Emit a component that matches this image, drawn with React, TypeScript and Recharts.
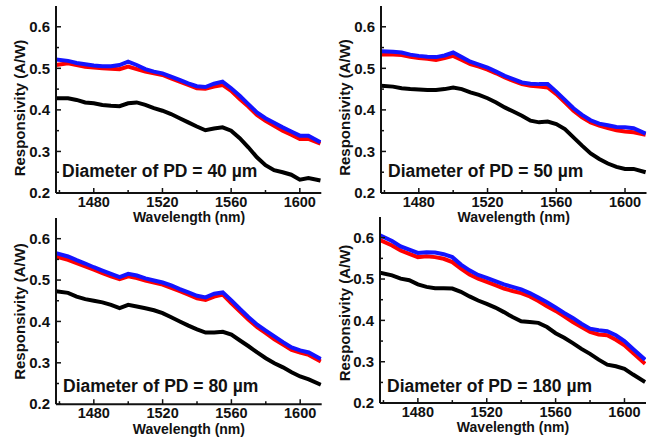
import React from 'react';
import { LineChart, Line, XAxis, YAxis } from 'recharts';

// wavelength samples (nm), shared by all four panels
const wavelengths = [
  1458, 1465, 1470, 1475, 1480, 1485, 1490, 1495, 1500, 1505, 1510, 1515, 1520, 1525, 1530, 1535,
  1540, 1545, 1550, 1555, 1560, 1565, 1570, 1575, 1580, 1585, 1590, 1595, 1600, 1605, 1612,
];

// responsivity (A/W)
const pd40Black = [0.428, 0.428, 0.424, 0.418, 0.416, 0.412, 0.41, 0.409, 0.416, 0.418, 0.412, 0.404, 0.398, 0.39, 0.38, 0.37, 0.36, 0.351, 0.355, 0.358, 0.35, 0.332, 0.31, 0.286, 0.267, 0.255, 0.25, 0.244, 0.232, 0.236, 0.23];
const pd40Red = [0.508, 0.512, 0.508, 0.504, 0.502, 0.5, 0.499, 0.498, 0.504, 0.498, 0.492, 0.488, 0.484, 0.476, 0.468, 0.46, 0.452, 0.451, 0.456, 0.46, 0.446, 0.426, 0.408, 0.388, 0.374, 0.362, 0.35, 0.34, 0.33, 0.33, 0.319];
const pd40Blue = [0.521, 0.518, 0.513, 0.51, 0.507, 0.505, 0.505, 0.508, 0.516, 0.508, 0.498, 0.492, 0.488, 0.48, 0.472, 0.464, 0.457, 0.455, 0.463, 0.468, 0.452, 0.434, 0.414, 0.394, 0.38, 0.369, 0.358, 0.348, 0.338, 0.338, 0.322];

const pd50Black = [0.458, 0.456, 0.452, 0.45, 0.449, 0.448, 0.448, 0.45, 0.454, 0.45, 0.442, 0.436, 0.428, 0.418, 0.406, 0.396, 0.386, 0.374, 0.37, 0.372, 0.366, 0.354, 0.334, 0.314, 0.295, 0.282, 0.271, 0.263, 0.258, 0.258, 0.25];
const pd50Red = [0.533, 0.533, 0.532, 0.528, 0.525, 0.523, 0.52, 0.525, 0.53, 0.52, 0.51, 0.504, 0.497, 0.488, 0.478, 0.47, 0.462, 0.458, 0.456, 0.454, 0.438, 0.418, 0.398, 0.382, 0.37, 0.362, 0.356, 0.351, 0.348, 0.346, 0.34];
const pd50Blue = [0.541, 0.54, 0.538, 0.533, 0.53, 0.528, 0.527, 0.531, 0.538, 0.527, 0.516, 0.509, 0.502, 0.492, 0.482, 0.474, 0.466, 0.463, 0.462, 0.462, 0.444, 0.424, 0.404, 0.388, 0.375, 0.367, 0.363, 0.359, 0.358, 0.356, 0.343];

const pd80Black = [0.473, 0.469, 0.46, 0.454, 0.45, 0.446, 0.44, 0.432, 0.44, 0.436, 0.432, 0.427, 0.42, 0.41, 0.4, 0.39, 0.381, 0.373, 0.373, 0.375, 0.368, 0.354, 0.34, 0.325, 0.311, 0.299, 0.289, 0.277, 0.267, 0.26, 0.247];
const pd80Red = [0.557, 0.549, 0.541, 0.533, 0.525, 0.517, 0.509, 0.502, 0.509, 0.505, 0.499, 0.494, 0.489, 0.481, 0.473, 0.465, 0.456, 0.452, 0.46, 0.465, 0.444, 0.424, 0.404, 0.386, 0.372, 0.357, 0.344, 0.331, 0.325, 0.319, 0.303];
const pd80Blue = [0.565, 0.557, 0.548, 0.54, 0.531, 0.523, 0.515, 0.507, 0.515, 0.511, 0.504, 0.499, 0.494, 0.487, 0.478, 0.47, 0.462, 0.458, 0.467, 0.47, 0.451, 0.43, 0.41, 0.392, 0.378, 0.364, 0.35, 0.337, 0.33, 0.325, 0.309];

const pd180Black = [0.515, 0.509, 0.501, 0.497, 0.487, 0.481, 0.478, 0.478, 0.477, 0.469, 0.458, 0.448, 0.44, 0.431, 0.42, 0.408, 0.398, 0.396, 0.394, 0.384, 0.369, 0.358, 0.345, 0.331, 0.319, 0.305, 0.293, 0.289, 0.283, 0.269, 0.251];
const pd180Red = [0.594, 0.581, 0.569, 0.561, 0.553, 0.555, 0.553, 0.549, 0.541, 0.525, 0.511, 0.501, 0.493, 0.485, 0.477, 0.471, 0.466, 0.458, 0.447, 0.434, 0.423, 0.41, 0.396, 0.384, 0.372, 0.366, 0.364, 0.353, 0.34, 0.321, 0.295];
const pd180Blue = [0.606, 0.592, 0.579, 0.571, 0.563, 0.565, 0.564, 0.56, 0.553, 0.535, 0.521, 0.51, 0.503, 0.495, 0.487, 0.481, 0.475, 0.466, 0.455, 0.444, 0.431, 0.418, 0.406, 0.392, 0.38, 0.376, 0.374, 0.364, 0.35, 0.331, 0.305];

const xMajorTicks = [1480, 1520, 1560, 1600];
const xMinorTicks = [1460, 1500, 1540, 1580];
const yMajorTicks = [0.2, 0.3, 0.4, 0.5, 0.6];
const yMinorTicks = [0.25, 0.35, 0.45, 0.55];
const panelLabels = ['Diameter of PD = 40 µm', 'Diameter of PD = 50 µm', 'Diameter of PD = 80 µm', 'Diameter of PD = 180 µm'];

const xTicks = [...xMajorTicks, ...xMinorTicks].sort((a, b) => a - b);
const yTicks = [...yMajorTicks, ...yMinorTicks].sort((a, b) => a - b);

const FONT = '"Liberation Sans", Arial, sans-serif';
const INK = '#111';

// plot-area placement of each panel on the page
const panels = [
  { label: panelLabels[0], black: pd40Black, red: pd40Red, blue: pd40Blue, x0: 56.4, y0: 5.5, w: 265.3, h: 187, titleX: 25, titleY: 108, noteX: 62, noteY: 177 },
  { label: panelLabels[1], black: pd50Black, red: pd50Red, blue: pd50Blue, x0: 381, y0: 5.5, w: 265.5, h: 187, titleX: 349.5, titleY: 107.5, noteX: 388, noteY: 177 },
  { label: panelLabels[2], black: pd80Black, red: pd80Red, blue: pd80Blue, x0: 56, y0: 218.3, w: 265.7, h: 186.2, titleX: 25, titleY: 311.5, noteX: 63, noteY: 392 },
  { label: panelLabels[3], black: pd180Black, red: pd180Red, blue: pd180Blue, x0: 380, y0: 216.6, w: 266, h: 186.1, titleX: 349.5, titleY: 313, noteX: 387, noteY: 392 },
];

const XTick = ({ x, y, payload }: any) => {
  const major = xMajorTicks.includes(payload.value);
  return (
    <g>
      <line x1={x} x2={x} y1={y} y2={y - (major ? 5 : 3)} stroke={INK} strokeWidth={1.5} />
      {major && (
        <text x={x} y={y + 14} textAnchor="middle" fontSize={14.5} fontWeight="bold" fontFamily={FONT} fill={INK}>
          {payload.value}
        </text>
      )}
    </g>
  );
};

const YTick = ({ x, y, payload }: any) => {
  const major = yMajorTicks.some(t => Math.abs(t - payload.value) < 1e-6);
  return (
    <g>
      <line x1={x} x2={x + (major ? 5 : 3)} y1={y} y2={y} stroke={INK} strokeWidth={1.5} />
      {major && (
        <text x={x - 6} y={y + 5.3} textAnchor="end" fontSize={15} fontWeight="bold" fontFamily={FONT} fill={INK}>
          {payload.value.toFixed(1)}
        </text>
      )}
    </g>
  );
};

const Panel = ({ p }: any) => {
  const data = wavelengths.map((wl, i) => ({ wl, black: p.black[i], red: p.red[i], blue: p.blue[i] }));
  return (
    <div style={{ position: 'absolute', left: p.x0 - 56, top: p.y0 - 5 }}>
      <LineChart width={p.w + 60} height={p.h + 35} data={data} margin={{ top: 5, right: 4, bottom: 0, left: 0 }}>
        <XAxis
          type="number"
          dataKey="wl"
          domain={[1458, 1612.5]}
          ticks={xTicks}
          interval={0}
          tickSize={0}
          tickMargin={0}
          tickLine={false}
          tick={<XTick />}
          height={30}
          axisLine={{ stroke: INK, strokeWidth: 2 }}
          allowDataOverflow
        />
        <YAxis
          type="number"
          domain={[0.2, 0.65]}
          ticks={yTicks}
          interval={0}
          tickSize={0}
          tickMargin={0}
          tickLine={false}
          tick={<YTick />}
          width={56}
          axisLine={{ stroke: INK, strokeWidth: 2 }}
          allowDataOverflow
        />
        <Line type="linear" dataKey="black" stroke="#000000" strokeWidth={4} dot={false} isAnimationActive={false} />
        <Line type="linear" dataKey="red" stroke="#ff0000" strokeWidth={4} dot={false} isAnimationActive={false} />
        <Line type="linear" dataKey="blue" stroke="#1414ff" strokeWidth={4} dot={false} isAnimationActive={false} />
      </LineChart>
    </div>
  );
};

export default function App() {
  return (
    <div style={{ position: 'absolute', left: 0, top: 0, width: 653, height: 443, background: '#fff', overflow: 'hidden' }}>
      {panels.map((p, i) => (
        <Panel key={i} p={p} />
      ))}
      <svg width={653} height={443} style={{ position: 'absolute', left: 0, top: 0, pointerEvents: 'none' }}>
        {panels.map((p, i) => (
          <g key={i} fontFamily={FONT} fontWeight="bold" fill={INK}>
            <text x={p.titleX} y={p.titleY} fontSize={15} textAnchor="middle" transform={`rotate(-90, ${p.titleX}, ${p.titleY})`}>
              Responsivity (A/W)
            </text>
            <text x={p.x0 + p.w / 2} y={p.y0 + p.h + 29.5} fontSize={14} textAnchor="middle">
              Wavelength (nm)
            </text>
            <text x={p.noteX} y={p.noteY} fontSize={17.5}>
              {p.label}
            </text>
          </g>
        ))}
      </svg>
    </div>
  );
}
